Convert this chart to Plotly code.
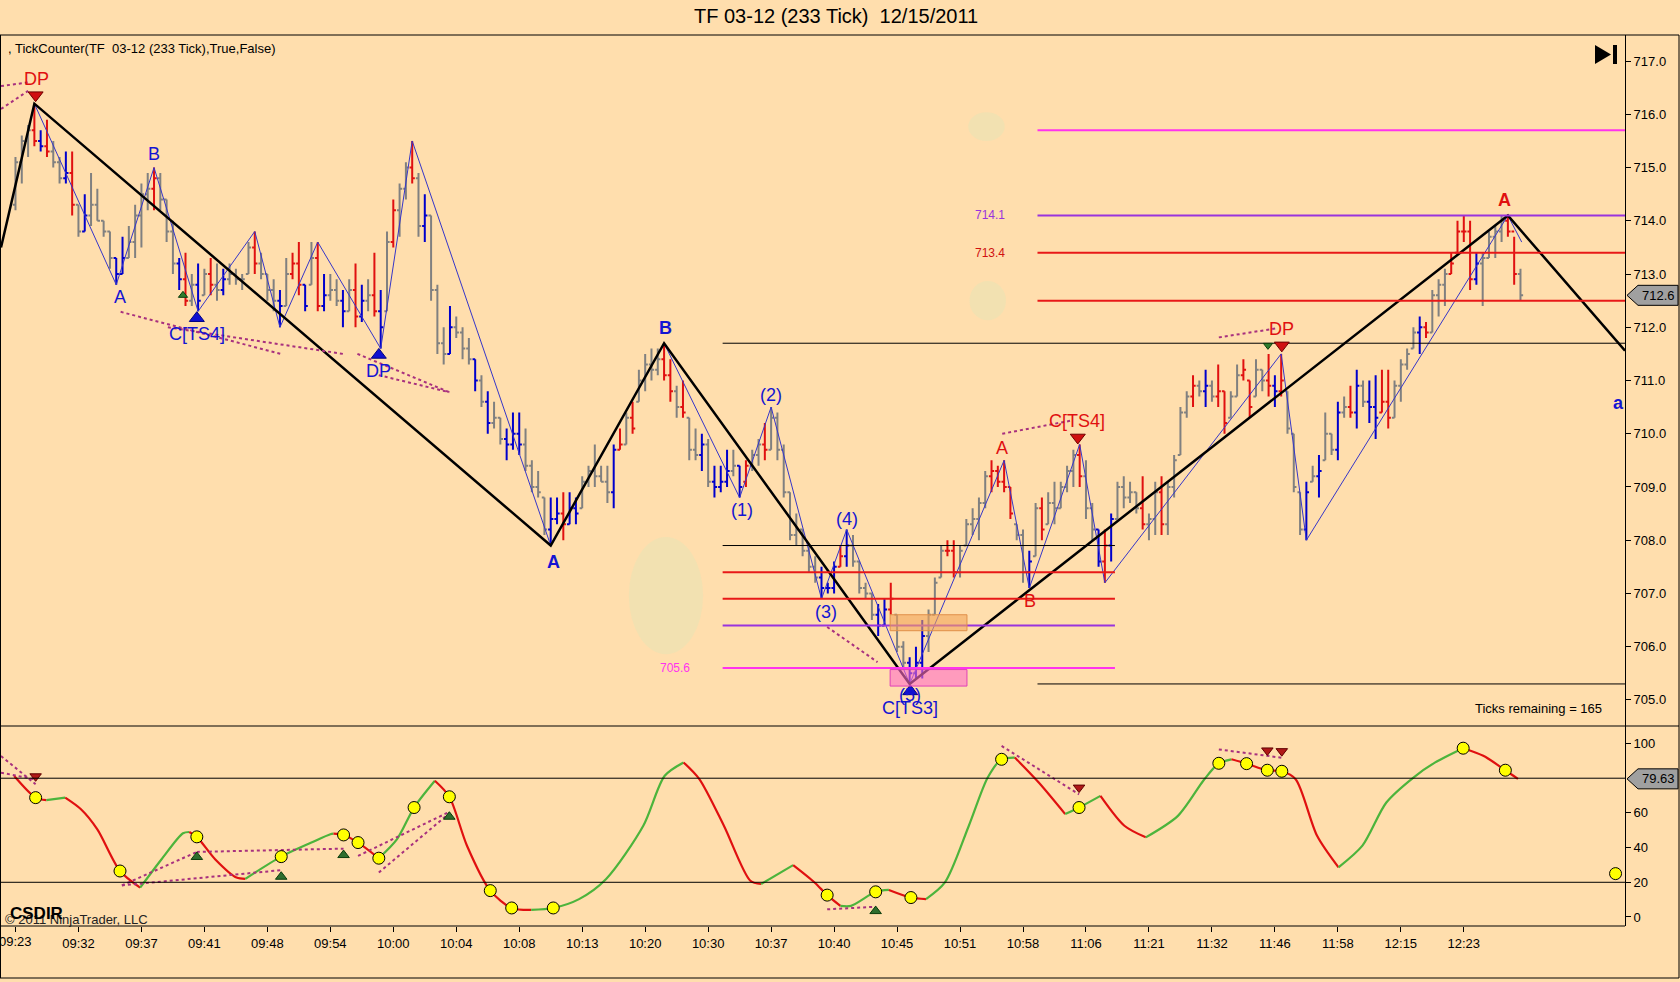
import plotly.graph_objects as go

FONT = 'Liberation Sans, Arial, sans-serif'
BG = '#FFDEAD'
RED = '#E01010'
BLUE = '#1414D2'
GREEN_OSC = '#4CB43C'

# --- price bars (bar index 0 = 09:23 label) ---
bar_color = list(
    'gggrbrggbr' 'gbggggbbgg' 'ggrgggbrgb' 'grgbggggrg' 'ggbgrrbgrb'
    'ggbgrbgrbg' 'rggrgbgggb' 'gggbgbggbb' 'bggggbbrbb' 'gggggbrgrg'
    'gggrrgrggb' 'gbbbgbrggr' 'ggggggggbb' 'brbggggbbr' 'ggbbbgggrr'
    'gggggrrrrg' 'gbgrgggggr' 'ggbrbggggr' 'ggrggggrgb' 'grrggrrggr'
    'brgggbgbgg' 'bgrbgbbrrg' 'gggbrgggrr' 'rrbggggrrg'
)
bar_high = [
    715.2, 715.6, 715.8, 716.2, 715.7, 715.9, 715.5, 715.2, 715.3, 715.3,
    714.3, 714.5, 714.9, 714.6, 714.0, 713.8, 713.3, 713.7, 713.9, 714.3,
    714.7, 714.9, 715.0, 714.9, 714.4, 714.0, 713.3, 713.4, 713.0, 713.2,
    713.1, 713.3, 713.2, 713.1, 713.2, 713.1, 713.0, 713.6, 713.8, 713.4,
    713.0, 712.9, 712.7, 713.3, 713.4, 713.6, 712.8, 713.6, 713.6, 713.0,
    713.0, 712.9, 712.7, 712.9, 713.2, 712.8, 712.9, 713.4, 712.7, 713.8,
    714.4, 714.7, 715.1, 715.5, 714.9, 714.5, 714.1, 712.8, 712.0, 712.4,
    712.2, 712.0, 711.8, 711.4, 711.1, 710.8, 710.6, 710.3, 710.1, 710.4,
    710.4, 710.1, 709.5, 709.3, 708.8, 708.8, 708.8, 708.9, 708.9, 708.8,
    709.2, 709.4, 709.8, 709.4, 709.4, 709.8, 710.1, 710.4, 710.6, 711.2,
    711.5, 711.6, 711.6, 711.7, 711.4, 710.9, 711.0, 710.3, 710.1, 710.0,
    709.9, 709.4, 709.4, 709.7, 709.7, 709.4, 709.5, 709.7, 709.9, 710.2,
    710.5, 710.4, 709.8, 708.9, 708.5, 708.2, 707.9, 707.7, 707.5, 707.2,
    707.6, 707.9, 708.2, 708.1, 707.6, 707.2, 707.0, 706.8, 706.9, 707.2,
    706.6, 706.1, 705.8, 706.0, 706.5, 706.7, 707.3, 707.9, 708.0, 708.0,
    707.9, 708.4, 708.6, 708.8, 709.3, 709.5, 709.4, 709.5, 709.0, 708.3,
    708.2, 707.8, 708.7, 708.8, 708.9, 709.1, 709.1, 709.4, 709.7, 709.8,
    709.5, 708.7, 708.2, 708.2, 708.5, 709.1, 709.2, 709.1, 708.9, 709.2,
    708.5, 709.1, 709.2, 709.1, 709.6, 710.5, 710.8, 711.1, 711.0, 711.2,
    711.0, 711.3, 710.8, 710.8, 711.3, 711.4, 711.0, 711.4, 711.2, 711.5,
    711.1, 711.5, 710.8, 710.0, 708.9, 709.1, 709.4, 709.6, 710.4, 710.0,
    710.6, 710.7, 710.9, 711.2, 711.0, 711.0, 711.1, 711.2, 711.2, 711.0,
    711.4, 711.6, 712.0, 712.2, 712.1, 712.7, 712.9, 713.1, 713.4, 714.0,
    714.1, 714.0, 713.4, 713.4, 713.8, 713.9, 714.1, 714.1, 713.7, 713.1,
]
bar_low = [
    714.2, 714.7, 715.2, 715.4, 715.3, 715.2, 715.0, 714.7, 714.7, 714.1,
    713.7, 713.8, 713.9, 714.0, 713.7, 713.1, 712.8, 713.0, 713.3, 713.3,
    713.5, 714.2, 714.2, 714.2, 713.6, 713.0, 712.7, 712.4, 712.4, 712.3,
    712.6, 712.6, 712.5, 712.6, 712.8, 712.8, 712.7, 713.0, 713.0, 712.9,
    712.5, 712.3, 712.0, 712.4, 712.9, 712.6, 712.3, 712.8, 712.3, 712.3,
    712.5, 712.4, 712.0, 712.3, 712.0, 712.1, 712.3, 712.2, 711.6, 712.3,
    713.5, 713.7, 714.4, 714.7, 713.7, 713.6, 712.5, 711.5, 711.3, 711.5,
    711.8, 711.4, 711.3, 710.8, 710.5, 710.0, 710.1, 709.8, 709.5, 709.7,
    709.6, 709.3, 708.9, 708.8, 708.1, 707.9, 708.3, 708.0, 708.3, 708.3,
    708.6, 709.0, 709.0, 709.1, 708.7, 708.6, 709.7, 709.8, 710.0, 710.6,
    710.8, 711.0, 711.1, 711.0, 710.6, 710.3, 710.3, 709.5, 709.5, 709.3,
    709.0, 708.8, 708.9, 709.0, 709.2, 708.8, 709.0, 709.3, 709.4, 709.5,
    709.7, 709.5, 708.8, 708.0, 707.9, 707.7, 707.4, 707.2, 706.9, 707.0,
    707.0, 707.5, 707.5, 707.5, 707.0, 706.9, 706.5, 706.2, 706.4, 706.6,
    705.9, 705.6, 705.3, 705.4, 705.4, 705.9, 706.6, 707.3, 707.7, 707.3,
    707.3, 707.9, 708.1, 708.0, 708.6, 708.9, 709.0, 708.9, 708.4, 708.0,
    707.2, 707.1, 707.7, 708.0, 708.3, 708.3, 708.6, 708.9, 709.0, 709.0,
    708.4, 708.0, 707.5, 707.2, 707.6, 708.4, 708.6, 708.7, 708.5, 708.2,
    708.0, 708.1, 708.1, 708.1, 708.8, 709.6, 710.3, 710.5, 710.7, 710.5,
    710.6, 710.5, 710.0, 710.3, 710.7, 711.0, 710.3, 710.7, 710.8, 710.7,
    710.5, 710.7, 710.0, 708.9, 708.1, 708.0, 709.1, 708.8, 709.5, 709.6,
    709.5, 710.3, 710.3, 710.1, 710.5, 710.2, 709.9, 710.4, 710.1, 710.3,
    710.6, 711.2, 711.6, 711.5, 711.8, 711.9, 712.2, 712.4, 713.0, 713.4,
    713.6, 712.7, 712.8, 712.4, 713.3, 713.3, 713.6, 713.7, 712.8, 712.5,
]
bar_open = [
    714.3, 715.1, 715.5, 715.7, 715.5, 715.4, 715.3, 715.1, 714.8, 714.9,
    714.3, 713.8, 714.1, 714.3, 714.0, 713.8, 713.3, 713.0, 713.3, 713.6,
    714.1, 714.5, 714.6, 714.8, 714.4, 713.8, 713.2, 712.9, 712.5, 712.8,
    712.6, 713.0, 712.8, 712.7, 712.9, 713.0, 712.9, 713.0, 713.5, 713.2,
    713.0, 712.7, 712.5, 712.4, 713.0, 713.2, 712.8, 712.8, 713.3, 712.4,
    712.6, 712.7, 712.5, 712.3, 712.7, 712.2, 712.5, 712.6, 712.3, 712.3,
    713.6, 714.2, 714.6, 715.0, 714.8, 713.9, 714.1, 712.7, 711.7, 711.5,
    712.0, 711.9, 711.6, 711.4, 711.0, 710.6, 710.2, 710.3, 709.9, 709.8,
    710.0, 709.8, 709.4, 709.0, 708.8, 708.2, 708.4, 708.5, 708.3, 708.6,
    708.6, 709.1, 709.3, 709.2, 709.1, 708.9, 709.7, 709.8, 710.3, 710.6,
    711.0, 711.3, 711.2, 711.4, 711.1, 710.8, 710.5, 710.3, 709.7, 709.6,
    709.8, 709.1, 709.0, 709.1, 709.3, 709.4, 709.1, 709.4, 709.6, 709.8,
    709.7, 710.3, 709.7, 708.9, 708.1, 708.2, 707.8, 707.5, 707.3, 707.1,
    707.1, 707.5, 707.7, 707.9, 707.6, 707.1, 707.0, 706.6, 706.4, 706.7,
    706.6, 706.0, 705.7, 705.5, 705.7, 706.2, 706.6, 707.3, 707.8, 707.8,
    707.4, 707.9, 708.3, 708.4, 708.7, 709.2, 709.3, 709.1, 709.0, 708.3,
    708.1, 707.4, 707.7, 708.6, 708.3, 708.7, 708.6, 709.0, 709.3, 709.6,
    709.2, 708.6, 708.2, 707.6, 707.9, 708.4, 709.0, 708.8, 708.9, 708.6,
    708.3, 708.4, 708.9, 708.3, 709.0, 709.6, 710.4, 710.7, 710.9, 710.8,
    710.9, 710.7, 710.8, 710.3, 710.7, 711.1, 711.0, 710.7, 711.2, 711.0,
    710.9, 710.8, 710.8, 710.0, 708.9, 708.2, 709.1, 709.2, 709.5, 710.0,
    709.7, 710.4, 710.5, 710.4, 710.9, 710.6, 710.5, 710.4, 710.6, 710.3,
    710.9, 711.3, 711.6, 711.9, 712.0, 711.9, 712.6, 712.8, 713.0, 713.4,
    713.8, 713.8, 712.9, 713.2, 713.3, 713.7, 713.8, 714.0, 713.8, 713.0,
]
bar_close = [
    715.1, 715.5, 715.7, 715.5, 715.4, 715.3, 715.1, 714.8, 714.9, 714.3,
    713.8, 714.1, 714.3, 714.0, 713.8, 713.3, 713.0, 713.3, 713.6, 714.1,
    714.5, 714.6, 714.8, 714.4, 713.8, 713.2, 712.9, 712.5, 712.8, 712.5,
    713.0, 712.8, 712.7, 712.9, 713.0, 712.9, 712.9, 713.5, 713.2, 713.0,
    712.7, 712.5, 712.4, 713.0, 713.2, 712.8, 712.4, 713.3, 712.4, 712.6,
    712.7, 712.5, 712.3, 712.7, 712.2, 712.5, 712.6, 712.3, 712.0, 713.6,
    714.2, 714.6, 715.0, 714.8, 713.9, 714.1, 712.7, 711.7, 711.5, 712.0,
    711.9, 711.6, 711.4, 711.0, 710.6, 710.2, 710.3, 709.9, 709.8, 710.0,
    709.8, 709.4, 709.0, 708.9, 708.2, 708.4, 708.5, 708.3, 708.6, 708.5,
    709.1, 709.3, 709.2, 709.1, 708.9, 709.7, 709.8, 710.3, 710.1, 711.0,
    711.3, 711.2, 711.4, 711.1, 710.8, 710.5, 710.4, 709.7, 709.6, 709.8,
    709.1, 709.0, 709.1, 709.3, 709.4, 709.0, 709.4, 709.6, 709.8, 709.7,
    710.3, 709.7, 708.9, 708.1, 708.2, 707.8, 707.5, 707.3, 707.1, 707.1,
    707.5, 707.7, 707.9, 707.6, 707.1, 707.0, 706.6, 706.4, 706.7, 706.9,
    706.0, 705.7, 705.5, 705.7, 706.2, 706.6, 707.2, 707.8, 707.8, 707.4,
    707.8, 708.3, 708.4, 708.7, 709.2, 709.3, 709.1, 709.0, 708.5, 708.1,
    707.4, 707.6, 708.6, 708.2, 708.7, 708.6, 709.0, 709.3, 709.6, 709.2,
    708.6, 708.2, 707.6, 707.9, 708.4, 709.0, 708.8, 708.9, 708.6, 708.3,
    708.4, 708.9, 708.3, 709.0, 709.5, 710.4, 710.7, 710.9, 710.8, 710.9,
    710.7, 710.8, 710.2, 710.7, 711.1, 711.2, 710.5, 711.2, 711.0, 710.9,
    710.8, 711.0, 710.1, 709.0, 708.2, 708.9, 709.2, 709.3, 710.0, 709.7,
    710.4, 710.5, 710.4, 710.9, 710.6, 710.5, 710.3, 710.6, 710.3, 710.9,
    711.3, 711.5, 711.9, 712.0, 711.9, 712.6, 712.8, 713.0, 713.2, 713.8,
    713.8, 712.9, 713.2, 713.3, 713.7, 713.8, 714.0, 713.8, 713.0, 712.6,
]

tick_bars = list(range(0, 231, 10))
tick_labels = ['09:23', '09:32', '09:37', '09:41', '09:48', '09:54', '10:00', '10:04',
               '10:08', '10:13', '10:20', '10:30', '10:37', '10:40', '10:45', '10:51',
               '10:58', '11:06', '11:21', '11:32', '11:46', '11:58', '12:15', '12:23']

# zigzags
swing_x = [-2.3, 3, 85, 103, 142, 237, 255.6]
swing_y = [713.5, 716.2, 707.9, 711.7, 705.3, 714.1, 711.56]
minor_x = [3, 16, 22, 29, 38, 42, 48, 58, 63, 85, 103, 115, 120, 128, 132, 142,
           157, 161, 169, 173, 201, 205, 237, 239.2]
minor_y = [716.2, 712.8, 715.0, 712.3, 713.8, 712.0, 713.6, 711.6, 715.5, 707.9, 711.7,
           708.8, 710.5, 706.9, 708.2, 705.3, 709.5, 707.1, 709.8, 707.2, 711.5, 708.0,
           714.1, 713.6]

# horizontal levels: price, start bar, end bar, kind
level_price = [715.7, 714.1, 713.4, 712.5, 711.7, 705.3, 707.9, 707.4, 706.9, 706.4, 705.6]
level_start = [162.3, 162.3, 162.3, 162.3, 112.3, 162.3, 112.3, 112.3, 112.3, 112.3, 112.3]
level_end = [255.6, 255.6, 255.6, 255.6, 255.6, 255.6, 174.6, 174.6, 174.6, 174.6, 174.6]
level_kind = ['mag', 'pur', 'red', 'red', 'blk', 'blk', 'blk', 'red', 'red', 'pur', 'mag']

# divergence dotted lines (main panel)
div_x0 = [-2.3, -2.3, 16.7, 24.2, 54.3, 57.7, 128.9, 156.7, 191.1]
div_y0 = [716.53, 716.1, 712.29, 712.0, 711.5, 711.1, 706.37, 710.0, 711.81]
div_x1 = [2.0, 2.0, 42.1, 52.0, 68.9, 68.9, 136.9, 167.8, 200.3]
div_y1 = [716.6, 716.44, 711.5, 711.5, 710.78, 710.78, 705.71, 710.25, 711.98]

# oscillator (lower panel): bar, value, colour of the segment that starts here
osc_x = [-0.2, 3.2, 4.9, 7.9, 10.4, 13, 16.6, 19.8, 23.2, 26.6, 27.6, 28.8, 31.7, 35.1,
         36.5, 42.2, 47, 50, 50.5, 52.1, 54.4, 57.7, 60.6, 63.3, 66.6, 68.9, 71.7, 75.4,
         78.8, 81.9, 85.4, 89.5, 93.8, 99.7, 103.1, 106.1, 108.6, 112.5, 116.7, 118.4,
         123.5, 126.9, 128.9, 131, 132.7, 136.6, 138.7, 142.2, 144.6, 147.6, 151.4, 154.4,
         156.6, 158.7, 162.5, 166.7, 168.9, 172.3, 176.1, 179.5, 184.6, 188.8, 191.1,
         193.1, 195.5, 198.8, 201.1, 203.3, 206.7, 210.1, 213.9, 217.7, 222, 225.4,
         229.9, 233.1, 236.6, 238.6]
osc_y = [81.3, 68.8, 67.4, 68.8, 62.1, 50.5, 26.5, 16.9, 33.3, 48.3, 49.0, 46.2, 33.3, 22.7,
         22.0, 34.8, 42.9, 47.7, 48.0, 47.3, 42.9, 33.9, 44.9, 63.1, 78.5, 69.3, 41.1, 15.2,
         5.2, 4.1, 5.2, 10.3, 21.9, 52.6, 81.4, 89.1, 79.5, 52.6, 20.9, 19.0,
         29.9, 19.9, 12.6, 6.4, 6.4, 14.5, 15.6, 11.2, 10.3, 19.9, 52.6, 80.4,
         90.9, 91.9, 77.5, 59.3, 63.1, 69.8, 52.6, 45.9, 58.3, 79.4, 88.6,
         90.9, 88.4, 84.6, 84.0, 79.4, 46.8, 28.6, 41.1, 66.0, 80.4, 89.0,
         97.3, 92.9, 84.6, 79.63]
osc_seg = list('rrgrrrrggg' 'rrrrggggrr' 'rgggrrrrrg' 'gggggrrrrg' 'rrrgggrrgg'
               'gggrrggrrg' 'gggrrrrrrg' 'ggggrrr') + ['']

dot_x = [3.2, 16.6, 28.8, 42.2, 52.1, 54.4, 57.7, 63.3, 68.9, 75.4, 78.8, 85.4, 128.9,
         136.6, 142.2, 156.6, 168.9, 191.1, 195.5, 198.8, 201.1, 229.9, 236.6, 254.1]
dot_y = [68.8, 26.5, 46.2, 34.8, 47.3, 42.9, 33.9, 63.1, 69.3, 15.2, 5.2, 5.2, 12.6,
         14.5, 11.2, 90.9, 63.1, 88.6, 88.4, 84.6, 84.0, 97.3, 84.6, 25.0]

osc_div_x0 = [-2.3, -2.3, 16.9, 16.9, 28.8, 54.4, 57.7, 128.9, 156.6, 191.1]
osc_div_y0 = [92.8, 83.2, 18.2, 18.2, 37.5, 35.2, 25.6, 4.4, 98.6, 96.6]
osc_div_x1 = [3.2, 3.2, 28.8, 42.2, 52.1, 68.9, 68.9, 136.6, 168.9, 201.1]
osc_div_y1 = [76.5, 79.3, 37.5, 27.0, 39.4, 60.6, 59.8, 5.9, 70.7, 91.8]

last_price = 712.6
last_osc = 79.63

# ---------------------------------------------------------------------------
W, H = 1680, 982
ML, MR, MT, MB = 1, 55, 35, 56
PW, PH = W - ML - MR, H - MT - MB
SPLIT = 200 / PH  # lower panel share of plot height
Y1 = (704.51, 717.49)
Y2 = (-5.2, 110.1)


def px_x(px):
    return (px - ML) / PW


def px_y(py):
    return (H - MB - py) / PH


def paper_y1(v):
    return SPLIT + (v - Y1[0]) / (Y1[1] - Y1[0]) * (1 - SPLIT)


def paper_y2(v):
    return (v - Y2[0]) / (Y2[1] - Y2[0]) * SPLIT


fig = go.Figure()

bar_colors = {'g': '#808080', 'r': RED, 'b': '#0000CC'}
for code, col in bar_colors.items():
    idx = [i for i, c in enumerate(bar_color) if c == code]
    fig.add_trace(go.Ohlc(
        x=idx,
        open=[bar_open[i] for i in idx], high=[bar_high[i] for i in idx],
        low=[bar_low[i] for i in idx], close=[bar_close[i] for i in idx],
        increasing=dict(line=dict(color=col, width=2)),
        decreasing=dict(line=dict(color=col, width=2)),
        tickwidth=0.42, hoverinfo='skip', showlegend=False,
    ))

fig.add_trace(go.Scatter(x=minor_x, y=minor_y, mode='lines',
                         line=dict(color='#3636C8', width=1), hoverinfo='skip'))
fig.add_trace(go.Scatter(x=swing_x, y=swing_y, mode='lines',
                         line=dict(color='black', width=2.5), hoverinfo='skip'))

level_style = {'mag': ('#FF33EE', 2), 'pur': ('#9933DD', 2), 'red': ('#E81818', 2), 'blk': ('black', 1)}
for p, s, e, k in zip(level_price, level_start, level_end, level_kind):
    col, w = level_style[k]
    fig.add_trace(go.Scatter(x=[s, e], y=[p, p], mode='lines', line=dict(color=col, width=w),
                             hoverinfo='skip'))

dx, dy = [], []
for a, b, c, d in zip(div_x0, div_y0, div_x1, div_y1):
    dx += [a, c, None]
    dy += [b, d, None]
fig.add_trace(go.Scatter(x=dx, y=dy, mode='lines', line=dict(color='#A8307E', width=2, dash='dot'),
                         hoverinfo='skip'))


def tri(x, y, sym, col, size, yaxis='y', edge=None):
    fig.add_trace(go.Scatter(x=x, y=y, mode='markers', yaxis=yaxis, hoverinfo='skip',
                             marker=dict(symbol=sym, color=col, size=size,
                                         line=dict(color=edge or col, width=1))))


tri([3.2, 168.7, 201.1], [716.36, 709.93, 711.66], 'triangle-down', '#D01010', 13, edge='#700000')
tri([28.8, 57.7, 142.1], [712.17, 711.48, 705.16], 'triangle-up', '#1010D0', 13, edge='#000080')
tri([26.6], [712.6], 'triangle-up', '#2E7D2E', 8, edge='#0B3D0B')
tri([198.9], [711.66], 'triangle-down', '#2E7D2E', 8, edge='#0B3D0B')

# oscillator segments, coloured by direction
start = 0
for k in range(1, len(osc_x)):
    if k == len(osc_x) - 1 or osc_seg[k] != osc_seg[start]:
        col = GREEN_OSC if osc_seg[start] == 'g' else RED
        fig.add_trace(go.Scatter(x=osc_x[start:k + 1], y=osc_y[start:k + 1], yaxis='y2',
                                 mode='lines', line=dict(color=col, width=2.2, shape='spline', smoothing=0.8),
                                 hoverinfo='skip'))
        start = k

ox, oy = [], []
for a, b, c, d in zip(osc_div_x0, osc_div_y0, osc_div_x1, osc_div_y1):
    ox += [a, c, None]
    oy += [b, d, None]
fig.add_trace(go.Scatter(x=ox, y=oy, yaxis='y2', mode='lines',
                         line=dict(color='#A8307E', width=2, dash='dot'), hoverinfo='skip'))

fig.add_trace(go.Scatter(x=dot_x, y=dot_y, yaxis='y2', mode='markers', hoverinfo='skip',
                         marker=dict(symbol='circle', size=12, color='#FFFF00',
                                     line=dict(color='black', width=1))))
tri([3.2, 168.9, 198.8, 201.1], [81.1, 74.6, 96.0, 95.6], 'triangle-down', '#B01818', 10,
    yaxis='y2', edge='#600000')
tri([28.8, 42.2, 52.1, 68.9, 136.6], [34.6, 23.2, 35.7, 57.8, 3.4], 'triangle-up', '#2E6E2E', 10,
    yaxis='y2', edge='#0B3D0B')

# threshold lines of the oscillator
for v in (80, 20):
    fig.add_shape(type='line', xref='paper', yref='y2', x0=0, x1=1, y0=v, y1=v,
                  line=dict(color='black', width=1))

# faint blotches in the background
for cx, cy, rx, ry in [(103.3, 706.96, 5.9, 1.1), (154.2, 715.77, 2.9, 0.27), (154.4, 712.5, 2.9, 0.37)]:
    fig.add_shape(type='circle', xref='x', yref='y', x0=cx - rx, x1=cx + rx, y0=cy - ry, y1=cy + ry,
                  fillcolor='rgba(232,228,180,0.55)', line=dict(width=0), layer='below')

# zone boxes
fig.add_shape(type='rect', xref='x', yref='y', x0=138.9, x1=151.1, y0=706.3, y1=706.6,
              fillcolor='rgba(242,165,90,0.6)', line=dict(color='#E0904A', width=1))
fig.add_shape(type='rect', xref='x', yref='y', x0=138.9, x1=151.1, y0=705.26, y1=705.57,
              fillcolor='rgba(255,110,200,0.6)', line=dict(color='#E040B8', width=1))


def label(text, x, y, color, size=18, bold=False, yref='y', **kw):
    fig.add_annotation(x=x, y=y, xref='x', yref=yref, showarrow=False,
                       text=f'<b>{text}</b>' if bold else text,
                       font=dict(family=FONT, size=size, color=color), **kw)


label('DP', 3.3, 716.66, RED)
label('B', 22, 715.25, BLUE)
label('A', 16.6, 712.57, BLUE)
label('C[TS4]', 28.8, 711.87, BLUE)
label('DP', 57.7, 711.18, BLUE)
label('B', 103.3, 711.99, BLUE, bold=True)
label('A', 85.5, 707.6, BLUE, bold=True)
label('(1)', 115.4, 708.56, BLUE)
label('(2)', 119.9, 710.72, BLUE)
label('(3)', 128.7, 706.65, BLUE)
label('(4)', 132.0, 708.4, BLUE)
label('(5)', 142.1, 705.1, BLUE)
label('C[TS3]', 142.1, 704.84, BLUE)
label('A', 156.7, 709.73, RED)
label('B', 161.1, 706.85, RED)
label('C[TS4]', 168.6, 710.23, RED)
label('DP', 201.1, 711.97, RED)
label('A', 236.5, 714.4, RED, bold=True)
label('a', 254.5, 710.58, BLUE, bold=True)
label('714.1', 154.7, 714.1, '#9933DD', size=12)
label('713.4', 154.7, 713.4, '#D01010', size=12)
label('705.6', 104.7, 705.6, '#FF33EE', size=12)


def paper_text(text, x, y, size, color='black', xanchor='left', bold=False):
    fig.add_annotation(x=x, y=y, xref='paper', yref='paper', showarrow=False, xanchor=xanchor,
                       yanchor='middle', text=f'<b>{text}</b>' if bold else text,
                       font=dict(family=FONT, size=size, color=color))


paper_text('TF 03-12 (233 Tick)\u00a0 12/15/2011', px_x(836), px_y(16), 20, xanchor='center')
paper_text(', TickCounter(TF\u00a0 03-12 (233 Tick),True,False)', px_x(6), px_y(48), 13)
paper_text('Ticks remaining = 165', px_x(1604), px_y(708), 13, xanchor='right')
paper_text('\u00a9 2011 NinjaTrader, LLC', px_x(3), px_y(919), 13, color='#222222')
paper_text('CSDIR', px_x(8), px_y(913), 17, bold=True)
# first time label sits on the left edge (partly cut off, as in the original)
fig.add_annotation(x=tick_bars[0], y=px_y(941), xref='x', yref='paper', showarrow=False,
                   xanchor='center', yanchor='middle',
                   text=tick_labels[0], font=dict(family=FONT, size=13, color='black'))

# skip-to-end icon
fig.add_shape(type='path', xref='paper', yref='paper', fillcolor='black', line=dict(width=0),
              path=f'M {px_x(1595)} {px_y(45)} L {px_x(1595)} {px_y(64)} L {px_x(1611)} {px_y(54.5)} Z')
fig.add_shape(type='rect', xref='paper', yref='paper', fillcolor='black', line=dict(width=0),
              x0=px_x(1613), x1=px_x(1617), y0=px_y(45), y1=px_y(64))


def value_flag(text, yc, half):
    x0, x1, x2 = px_x(1627), px_x(1638), px_x(1678)
    fig.add_shape(type='path', xref='paper', yref='paper', fillcolor='#A0A0A0',
                  line=dict(color='black', width=1),
                  path=f'M {x0} {yc} L {x1} {yc + half} L {x2} {yc + half} '
                       f'L {x2} {yc - half} L {x1} {yc - half} Z')
    fig.add_annotation(x=(x1 + x2) / 2, y=yc, xref='paper', yref='paper', showarrow=False,
                       xanchor='center', yanchor='middle',
                       text=text, font=dict(family=FONT, size=13, color='black'))


value_flag(f'{last_price}', paper_y1(last_price), 10 / PH)
value_flag(f'{last_osc}', paper_y2(last_osc), 10 / PH)

# frame lines
frame = [
    (px_x(0), px_x(1679), px_y(35), px_y(35)),
    (px_x(0), px_x(1679), px_y(726), px_y(726)),
    (px_x(0), px_x(1625), px_y(926), px_y(926)),
    (px_x(0), px_x(1679), px_y(978), px_y(978)),
    (px_x(0.5), px_x(0.5), px_y(35), px_y(978)),
    (px_x(1679), px_x(1679), px_y(35), px_y(978)),
]
for x0, x1, y0, y1 in frame:
    fig.add_shape(type='line', xref='paper', yref='paper', x0=x0, x1=x1, y0=y0, y1=y1,
                  line=dict(color='black', width=1))

fig.update_layout(
    width=W, height=H, margin=dict(l=ML, r=MR, t=MT, b=MB, pad=0),
    paper_bgcolor=BG, plot_bgcolor=BG, showlegend=False,
    font=dict(family=FONT, size=13, color='black'),
    xaxis=dict(range=[-2.3, 255.6], anchor='y2', tickmode='array', tickvals=tick_bars,
               ticktext=tick_labels, ticks='outside', ticklen=5, tickcolor='black',
               showgrid=False, zeroline=False, showline=False, rangeslider=dict(visible=False),
               tickfont=dict(size=13)),
    yaxis=dict(domain=[SPLIT, 1], range=list(Y1), side='right', anchor='x',
               tickmode='array', tickvals=list(range(705, 718)), tickformat='.1f',
               ticks='outside', ticklen=5, tickcolor='black', showline=True, linecolor='black',
               showgrid=False, zeroline=False, tickfont=dict(size=13)),
    yaxis2=dict(domain=[0, SPLIT], range=list(Y2), side='right', anchor='x',
                tickmode='array', tickvals=[0, 20, 40, 60, 100], ticks='outside', ticklen=5,
                tickcolor='black', showline=True, linecolor='black', showgrid=False,
                zeroline=False, tickfont=dict(size=13)),
)

# the browser's default body margin would shift the chart; remove it
fig.write_html('out.html', config={'displayModeBar': False},
               post_script="document.body.style.margin='0';document.body.style.overflow='hidden';")
